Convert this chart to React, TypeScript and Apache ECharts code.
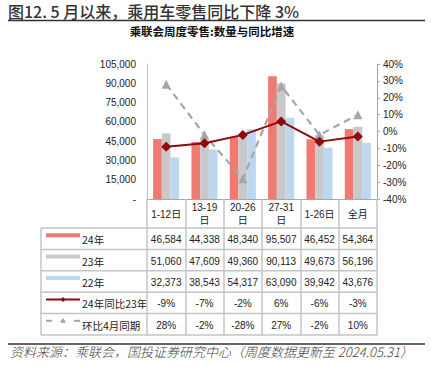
import React, { useEffect, useRef } from "react";
import * as echarts from "echarts";

const categories = ["1-12日", "13-19\n日", "20-26\n日", "27-31\n日", "1-26日", "全月"];
const sales24 = [46584, 44338, 48340, 95507, 46452, 54364];
const sales23 = [51060, 47609, 49360, 90113, 49673, 56196];
const sales22 = [32373, 38543, 54317, 63090, 39942, 43676];
const yoy24vs23 = [-9, -7, -2, 6, -6, -3];
const vsAprilSame = [28, -2, -28, 27, -2, 10];
const rowLabels = ["24年", "23年", "22年", "24年同比23年", "环比4月同期"];

const RED = "#EF7A72";
const GRAY = "#C9C9C9";
const BLUE = "#BDD7EE";
const DARKRED = "#8E0A0A";
const DASHGRAY = "#A6A6A6";
const FONT = "'Liberation Sans', 'Noto Sans CJK SC', sans-serif";
const CJK = "'Noto Sans CJK SC', 'Liberation Sans', sans-serif";

const GL = 147, GR = 377, GT = 64, GB = 199;
const ROW_TOP = 228, ROW_H = 21.4, TABLE_LEFT = 41;

export default function App() {
  const ref = useRef<HTMLDivElement>(null);
  useEffect(() => {
    const chart = echarts.init(ref.current!, undefined, { renderer: "svg" });
    const colW = (GR - GL) / categories.length;
    const fmt = (v: number) => v.toLocaleString("en-US");
    const tableRows: string[][] = [
      sales24.map(fmt),
      sales23.map(fmt),
      sales22.map(fmt),
      yoy24vs23.map((v) => v + "%"),
      vsAprilSame.map((v) => v + "%"),
    ];
    const graphics: any[] = [];
    // title
    graphics.push({
      type: "text", x: 8, y: 11,
      style: { text: "图12. 5 月以来，乘用车零售同比下降 3%", font: `500 16px ${CJK}`, fill: "#333", verticalAlign: "middle" },
    });
    graphics.push({ type: "line", shape: { x1: 8, y1: 20.5, x2: 425, y2: 20.5 }, style: { stroke: "#333", lineWidth: 1.5 } });
    graphics.push({
      type: "text", x: 212, y: 31,
      style: { text: "乘联会周度零售:数量与同比增速", font: `bold 11.5px ${CJK}`, fill: "#111", align: "center", verticalAlign: "middle" },
    });
    // footer
    graphics.push({ type: "line", shape: { x1: 8, y1: 344, x2: 425, y2: 344 }, style: { stroke: "#333", lineWidth: 1.5 } });
    graphics.push({
      type: "text", x: 10, y: 351,
      style: { text: "资料来源：乘联会，国投证券研究中心（周度数据更新至 2024.05.31）", font: `italic 300 13px ${CJK}`, fill: "#444", verticalAlign: "middle" },
    });
    // table lines
    for (let i = 0; i <= rowLabels.length; i++) {
      const y = ROW_TOP + ROW_H * i;
      graphics.push({ type: "line", shape: { x1: TABLE_LEFT, y1: y, x2: GR, y2: y }, style: { stroke: "#C4C4C4", lineWidth: 1.5 } });
    }
    graphics.push({ type: "line", shape: { x1: TABLE_LEFT, y1: ROW_TOP, x2: TABLE_LEFT, y2: ROW_TOP + ROW_H * rowLabels.length }, style: { stroke: "#C4C4C4", lineWidth: 1.5 } });
    // rows
    tableRows.forEach((row, r) => {
      const cy = ROW_TOP + ROW_H * r + ROW_H / 2;
      graphics.push({
        type: "text", x: 82, y: cy + 1,
        style: { text: rowLabels[r], font: `10.5px ${CJK}`, fill: "#222", verticalAlign: "middle" },
      });
      row.forEach((t, c) => {
        graphics.push({
          type: "text", x: GL + colW * (c + 0.5), y: cy + 1,
          style: { text: t, font: `10px ${FONT}`, fill: "#222", align: "center", verticalAlign: "middle" },
        });
      });
      const sy = cy - 3.5;
      if (r < 3) {
        const col = [RED, GRAY, BLUE][r];
        graphics.push({ type: "rect", shape: { x: 46, y: sy - 2, width: 34, height: 4 }, style: { fill: col } });
      } else if (r === 3) {
        graphics.push({ type: "line", shape: { x1: 46, y1: sy, x2: 80, y2: sy }, style: { stroke: DARKRED, lineWidth: 2 } });
        graphics.push({ type: "polygon", shape: { points: [[63, sy - 2.5], [65.5, sy], [63, sy + 2.5], [60.5, sy]] }, style: { fill: DARKRED } });
      } else {
        graphics.push({ type: "line", shape: { x1: 46, y1: sy, x2: 52, y2: sy }, style: { stroke: DASHGRAY, lineWidth: 2 } });
        graphics.push({ type: "line", shape: { x1: 74, y1: sy, x2: 80, y2: sy }, style: { stroke: DASHGRAY, lineWidth: 2 } });
        graphics.push({ type: "polygon", shape: { points: [[63, sy - 3], [66, sy + 2], [60, sy + 2]] }, style: { fill: DASHGRAY } });
      }
    });

    chart.setOption({
      animation: false,
      grid: { left: GL, right: 431 - GR, top: GT, bottom: 376 - GB, containLabel: false },
      graphic: graphics,
      xAxis: {
        type: "category",
        data: categories,
        axisLine: { lineStyle: { color: "#A6A6A6", width: 1 } },
        axisTick: { show: true, length: 136, lineStyle: { color: "#C4C4C4", width: 1.5 } },
        axisLabel: {
          interval: 0, margin: 15, verticalAlign: "middle", lineHeight: 13,
          fontFamily: FONT, fontSize: 10, color: "#222",
        },
      },
      yAxis: [
        {
          type: "value", min: 0, max: 105000, interval: 15000,
          splitLine: { show: false },
          axisLine: { show: true, lineStyle: { color: "#BFBFBF" } },
          axisTick: { show: false },
          axisLabel: {
            margin: 11, fontFamily: FONT, fontSize: 10, color: "#222",
            formatter: (v: number) => (v === 0 ? "-" : v.toLocaleString("en-US")),
          },
        },
        {
          type: "value", min: -40, max: 40, interval: 10, position: "right",
          splitLine: { show: false },
          axisLine: { show: true, lineStyle: { color: "#A6A6A6" } },
          axisTick: { show: true, length: 3, lineStyle: { color: "#A6A6A6" } },
          axisLabel: { margin: 6, fontFamily: FONT, fontSize: 10, color: "#222", formatter: (v: number) => v + "%" },
        },
      ],
      series: [
        { name: "24年", type: "bar", data: sales24, barWidth: 8.7, barGap: "0%", itemStyle: { color: RED } },
        { name: "23年", type: "bar", data: sales23, barWidth: 8.7, barGap: "0%", itemStyle: { color: GRAY } },
        { name: "22年", type: "bar", data: sales22, barWidth: 8.7, barGap: "0%", itemStyle: { color: BLUE } },
        {
          name: "24年同比23年", type: "line", yAxisIndex: 1, data: yoy24vs23, z: 5,
          symbol: "diamond", symbolSize: 10,
          lineStyle: { color: DARKRED, width: 2 }, itemStyle: { color: DARKRED },
        },
        {
          name: "环比4月同期", type: "line", yAxisIndex: 1, data: vsAprilSame, z: 4,
          symbol: "triangle", symbolSize: 9,
          lineStyle: { color: DASHGRAY, width: 2.2, type: [7, 5] }, itemStyle: { color: DASHGRAY },
        },
      ],
    });
    return () => chart.dispose();
  }, []);
  return (
    <div
      ref={ref}
      style={{ position: "fixed", left: 0, top: 0, width: 431, height: 376, background: "#fff" }}
    />
  );
}
